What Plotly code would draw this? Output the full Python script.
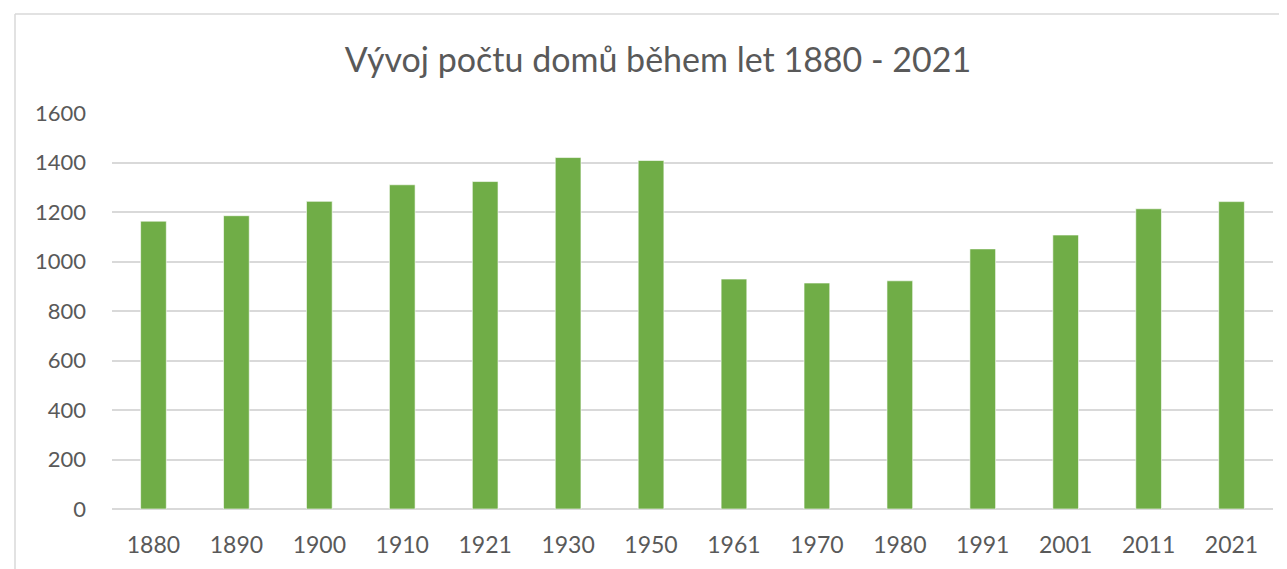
import plotly.graph_objects as go

years = ["1880", "1890", "1900", "1910", "1921", "1930", "1950",
         "1961", "1970", "1980", "1991", "2001", "2011", "2021"]
houses = [1163, 1185, 1243, 1310, 1323, 1420, 1408,
          929, 913, 922, 1051, 1107, 1213, 1242]
y_ticks = [0, 200, 400, 600, 800, 1000, 1200, 1400, 1600]

title_text = "Vývoj počtu domů během let 1880 - 2021"

# page is rendered with an 8px body offset
W, H = 1279, 561
ml, mr, mt, mb = 104, 14, 105, 60
pw = W - ml - mr
ph = H - mt - mb

fig = go.Figure(go.Bar(
    x=years, y=houses,
    marker=dict(color="#70AD47", line=dict(color="rgba(255,255,255,0.6)", width=1)),
))

frame_x = (7 - ml) / pw
frame_y = (H - mb - 6) / ph

fig.update_layout(
    width=W, height=H,
    margin=dict(l=ml, r=mr, t=mt, b=mb),
    paper_bgcolor="white", plot_bgcolor="white",
    bargap=0.69,
    showlegend=False,
    font=dict(family="Lato, 'Open Sans', sans-serif", color="#595959"),
    title=dict(text=title_text, x=650 / W, xanchor="center", xref="container",
               y=1 - 52 / H, yanchor="middle",
               font=dict(size=34, color="#595959")),
    xaxis=dict(showgrid=False, showline=False, ticks="",
               tickfont=dict(size=23, color="#595959"),
               ticklabelstandoff=20),
    yaxis=dict(range=[0, 1600], tickvals=y_ticks, showgrid=True,
               gridcolor="#D9D9D9", gridwidth=1.5, zeroline=True,
               zerolinecolor="#D9D9D9", zerolinewidth=1.5,
               showline=False, ticks="",
               tickfont=dict(size=22, color="#595959"),
               ticklabelstandoff=25),
    shapes=[
        dict(type="line", xref="paper", yref="paper",
             x0=frame_x, x1=1.2, y0=frame_y, y1=frame_y,
             line=dict(color="#D9D9D9", width=1.5)),
        dict(type="line", xref="paper", yref="paper",
             x0=frame_x, x1=frame_x, y0=frame_y, y1=-0.3,
             line=dict(color="#D9D9D9", width=1.5)),
    ],
)

fig.write_html("out.html")
